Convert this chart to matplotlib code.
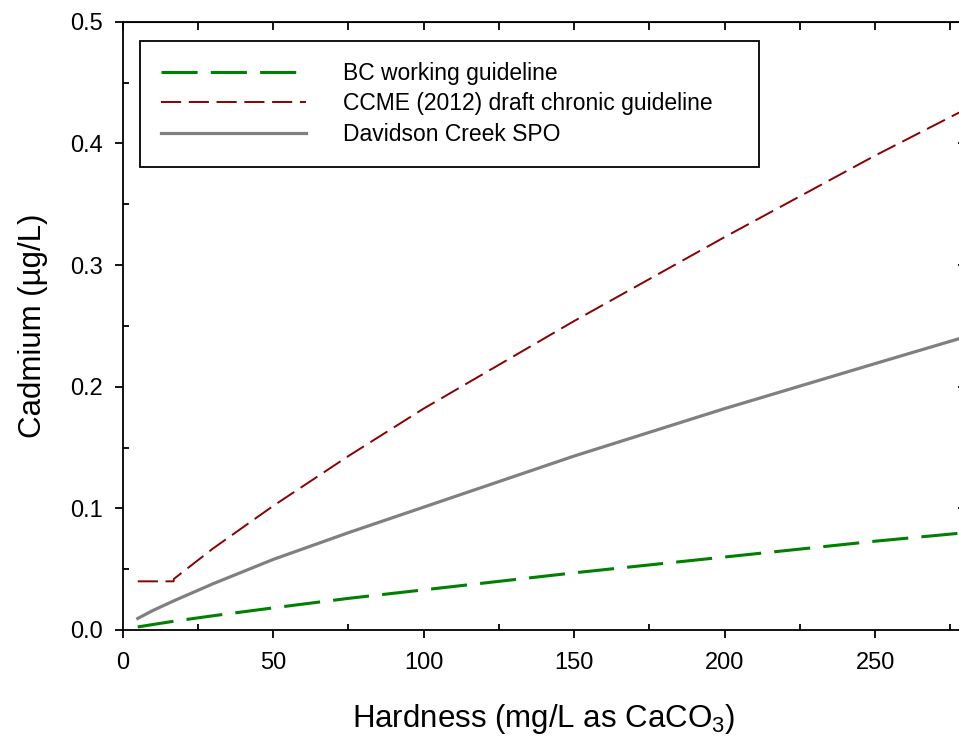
import numpy as np
import matplotlib
matplotlib.use("Agg")
import matplotlib.pyplot as plt
from matplotlib.patches import Rectangle

plt.rcParams['font.family'] = ['Liberation Sans', 'DejaVu Sans']
plt.rcParams['mathtext.fontset'] = 'custom'
plt.rcParams['mathtext.rm'] = 'Liberation Sans'
plt.rcParams['mathtext.it'] = 'Liberation Sans:italic'
plt.rcParams['lines.scale_dashes'] = False

# hardness (mg/L as CaCO3) and cadmium values (ug/L)
hardness = [5, 10, 17, 30, 50, 75, 100, 150, 200, 250, 280]
bc_guideline = [0.0025, 0.0045, 0.0072, 0.0117, 0.0182, 0.026, 0.033, 0.047, 0.060, 0.073, 0.080]
davidson_spo = [0.0095, 0.016, 0.024, 0.038, 0.058, 0.080, 0.101, 0.143, 0.182, 0.219, 0.241]

hardness_ccme = [5, 16.9, 17, 30, 50, 75, 100, 150, 200, 250, 280]
ccme_guideline = [0.040, 0.040, 0.042, 0.067, 0.102, 0.143, 0.182, 0.254, 0.323, 0.390, 0.428]

labels = ["BC working guideline",
          "CCME (2012) draft chronic guideline",
          "Davidson Creek SPO"]

W, H = 959, 740
fig = plt.figure(figsize=(W / 100, H / 100), dpi=100)
# right spine sits just outside the picture, as in the original
ax = fig.add_axes([122.7 / W, 110 / H, (965.5 - 122.7) / W, (630 - 21.7) / H])

ax.plot(hardness, bc_guideline, color='#008000', lw=2.2, dashes=(26, 9.5), label=labels[0])
ax.plot(hardness_ccme, ccme_guideline, color='#8b0000', lw=1.4, dashes=(14.5, 5.5), label=labels[1])
ax.plot(hardness, davidson_spo, color='#808080', lw=2.3, label=labels[2])

ax.set_xlim(0, 280)
ax.set_ylim(0, 0.5)
ax.set_xticks(np.arange(0, 251, 50))
ax.set_xticks(np.arange(25, 280, 50), minor=True)
ax.set_yticks(np.arange(0, 0.51, 0.1))
ax.set_yticks(np.arange(0.05, 0.5, 0.1), minor=True)
ax.set_yticklabels(["0.0", "0.1", "0.2", "0.3", "0.4", "0.5"])

for s in ax.spines.values():
    s.set_linewidth(1.3)
ax.tick_params(which='major', direction='out', length=6, width=1.3, labelsize=17)
ax.tick_params(axis='x', which='major', pad=10)
ax.tick_params(axis='y', which='major', pad=8)
ax.tick_params(which='minor', direction='in', length=4.5, width=1.3)

# top: inward ticks every 25, right: inward ticks at major y
top = ax.secondary_xaxis('top')
top.set_xticks(np.arange(0, 281, 25))
top.tick_params(direction='in', length=6, width=1.3, labeltop=False)
right = ax.secondary_yaxis('right')
right.set_yticks(np.arange(0, 0.51, 0.1))
right.tick_params(direction='in', length=6, width=1.3, labelright=False)

ax.set_xlabel("Hardness (mg/L as CaCO$_3$)", fontsize=22.5, labelpad=20)
ax.set_ylabel("Cadmium (µg/L)", fontsize=22.5, labelpad=16)

# legend box
box = Rectangle((140 / W, 1 - 167 / H), (759 - 140) / W, (167 - 41) / H,
                transform=fig.transFigure, facecolor='white',
                edgecolor='black', lw=1.3, zorder=4, clip_on=False)
ax.add_patch(box)
leg = ax.legend(loc='upper left', bbox_to_anchor=(140 / W, 1 - 41 / H),
                bbox_transform=fig.transFigure, borderaxespad=0,
                fontsize=16.5, handlelength=6.35, handletextpad=1.6,
                labelspacing=0.34, borderpad=0.9, frameon=False)
leg.set_zorder(6)

fig.savefig("out.png", dpi=100)
